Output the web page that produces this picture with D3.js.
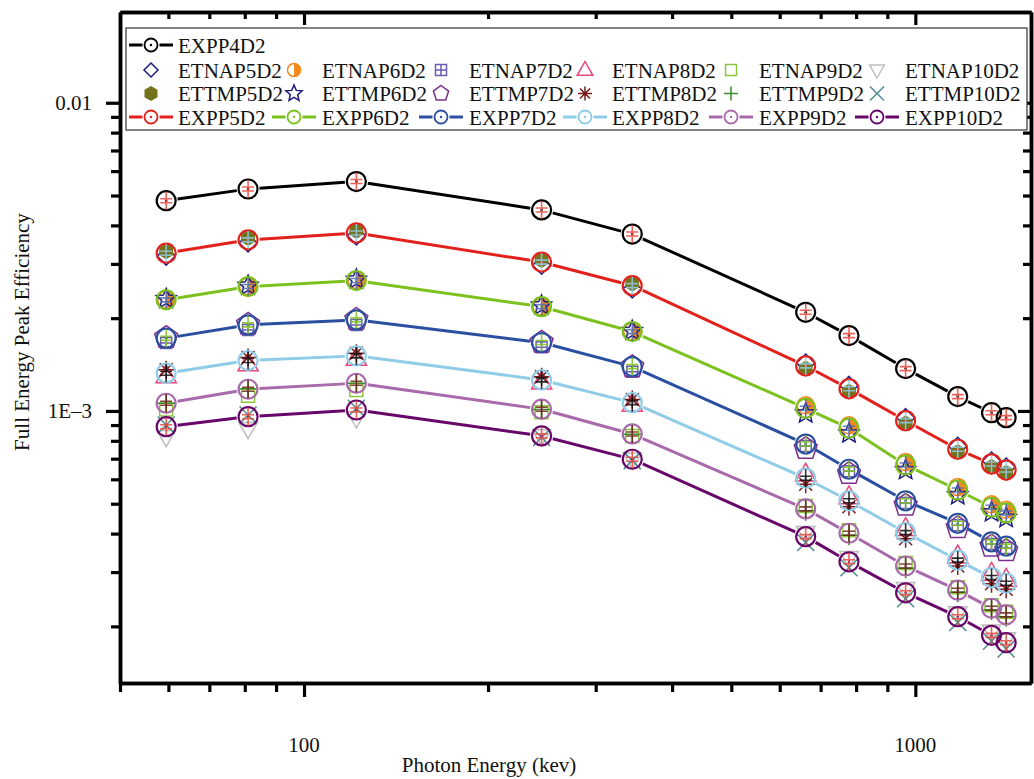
<!DOCTYPE html>
<html><head><meta charset="utf-8">
<script src="https://cdn.jsdelivr.net/npm/d3@7"></script>
<style>
body{margin:0;background:#fff}
svg{display:block}
text{font-family:"Liberation Serif","Times New Roman",serif;fill:#111}
</style>
</head><body>
<svg id="chart" width="1034" height="779"></svg>
<script>
// ---------------- data ----------------
const energies = [59.5, 81, 121.8, 244.7, 344.3, 661.7, 778.9, 964.1, 1173.2, 1332.5, 1408.0];

const EXPP4D2  = [4.81e-3, 5.25e-3, 5.55e-3, 4.49e-3, 3.75e-3, 2.09e-3, 1.756e-3, 1.372e-3, 1.113e-3, 0.987e-3, 0.951e-3];
const EXPP5D2  = [3.25e-3, 3.59e-3, 3.78e-3, 3.04e-3, 2.55e-3, 1.40e-3, 1.181e-3, 0.930e-3, 0.751e-3, 0.673e-3, 0.643e-3];
const EXPP6D2  = [2.293e-3, 2.533e-3, 2.649e-3, 2.18e-3, 1.809e-3, 1.020e-3, 0.879e-3, 0.668e-3, 0.554e-3, 0.487e-3, 0.467e-3];
const EXPP7D2  = [1.722e-3, 1.902e-3, 1.975e-3, 1.667e-3, 1.393e-3, 0.781e-3, 0.647e-3, 0.511e-3, 0.432e-3, 0.376e-3, 0.364e-3];
const EXPP8D2  = [1.326e-3, 1.457e-3, 1.509e-3, 1.261e-3, 1.064e-3, 0.605e-3, 0.511e-3, 0.403e-3, 0.328e-3, 0.288e-3, 0.276e-3];
const EXPP9D2  = [1.059e-3, 1.176e-3, 1.230e-3, 1.013e-3, 0.842e-3, 0.481e-3, 0.401e-3, 0.314e-3, 0.262e-3, 0.229e-3, 0.218e-3];
const EXPP10D2 = [0.889e-3, 0.958e-3, 1.007e-3, 0.830e-3, 0.697e-3, 0.391e-3, 0.324e-3, 0.257e-3, 0.215e-3, 0.187e-3, 0.177e-3];

const ETNAP5D2  = [3.18e-3, 3.51e-3, 3.70e-3, 2.97e-3, 2.49e-3, 1.43e-3, 1.21e-3, 0.951e-3, 0.768e-3, 0.688e-3, 0.658e-3];
const ETNAP6D2  = [2.30e-3, 2.54e-3, 2.66e-3, 2.18e-3, 1.81e-3, 1.043e-3, 0.899e-3, 0.683e-3, 0.567e-3, 0.498e-3, 0.478e-3];
const ETNAP7D2  = [1.66e-3, 1.83e-3, 1.90e-3, 1.61e-3, 1.34e-3, 0.769e-3, 0.637e-3, 0.503e-3, 0.426e-3, 0.370e-3, 0.359e-3];
const ETNAP8D2  = [1.30e-3, 1.42e-3, 1.48e-3, 1.24e-3, 1.05e-3, 0.623e-3, 0.526e-3, 0.415e-3, 0.338e-3, 0.297e-3, 0.284e-3];
const ETNAP9D2  = [1.01e-3, 1.12e-3, 1.17e-3, 0.99e-3, 0.83e-3, 0.492e-3, 0.410e-3, 0.321e-3, 0.268e-3, 0.234e-3, 0.223e-3];
const ETNAP10D2 = [0.825e-3, 0.876e-3, 0.949e-3, 0.83e-3, 0.697e-3, 0.403e-3, 0.334e-3, 0.265e-3, 0.221e-3, 0.193e-3, 0.182e-3];

const ETTMP5D2  = [3.30e-3, 3.64e-3, 3.84e-3, 3.09e-3, 2.59e-3, 1.37e-3, 1.155e-3, 0.910e-3, 0.734e-3, 0.658e-3, 0.629e-3];
const ETTMP6D2  = [2.31e-3, 2.55e-3, 2.67e-3, 2.20e-3, 1.82e-3, 0.982e-3, 0.846e-3, 0.643e-3, 0.533e-3, 0.469e-3, 0.450e-3];
const ETTMP7D2  = [1.73e-3, 1.91e-3, 1.98e-3, 1.67e-3, 1.39e-3, 0.755e-3, 0.626e-3, 0.494e-3, 0.418e-3, 0.364e-3, 0.352e-3];
const ETTMP8D2  = [1.36e-3, 1.49e-3, 1.54e-3, 1.29e-3, 1.09e-3, 0.578e-3, 0.489e-3, 0.385e-3, 0.314e-3, 0.275e-3, 0.264e-3];
const ETTMP9D2  = [1.06e-3, 1.18e-3, 1.23e-3, 1.01e-3, 0.84e-3, 0.474e-3, 0.395e-3, 0.309e-3, 0.258e-3, 0.226e-3, 0.215e-3];
const ETTMP10D2 = [0.90e-3, 0.97e-3, 1.02e-3, 0.82e-3, 0.69e-3, 0.374e-3, 0.310e-3, 0.246e-3, 0.206e-3, 0.179e-3, 0.169e-3];

const xMajorTicks = [100, 1000];
const xMajorLabels = ["100", "1000"];
const xMinorTicks = [50, 60, 70, 80, 90, 200, 300, 400, 500, 600, 700, 800, 900];
const yMajorTicks = [1e-3, 1e-2];
const yMajorLabels = ["1E\u20133", "0.01"];
const yMinorTicks = [2e-4, 3e-4, 4e-4, 5e-4, 6e-4, 7e-4, 8e-4, 9e-4, 2e-3, 3e-3, 4e-3, 5e-3, 6e-3, 7e-3, 8e-3, 9e-3];
const xDomain = [50, 1546];
const yDomain = [1.31e-4, 0.0197];

// ---------------- series definitions ----------------
const exppSeries = [
  {name: "EXPP4D2",  values: EXPP4D2,  color: "#000000", err: "#e8463c"},
  {name: "EXPP5D2",  values: EXPP5D2,  color: "#e3211c", err: "#8fcce8"},
  {name: "EXPP6D2",  values: EXPP6D2,  color: "#7dc11f", err: "#5068b2"},
  {name: "EXPP7D2",  values: EXPP7D2,  color: "#2a4fa0", err: "#7dc11f"},
  {name: "EXPP8D2",  values: EXPP8D2,  color: "#8fcce8", err: "#111111"},
  {name: "EXPP9D2",  values: EXPP9D2,  color: "#a86aaa", err: "#6b2410"},
  {name: "EXPP10D2", values: EXPP10D2, color: "#68076a", err: "#e8463c"}
];
const etnapSeries = [
  {name: "ETNAP5D2",  values: ETNAP5D2,  kind: "diamond",     color: "#1d1d8a"},
  {name: "ETNAP6D2",  values: ETNAP6D2,  kind: "halfcircle",  color: "#f28a1e"},
  {name: "ETNAP7D2",  values: ETNAP7D2,  kind: "squarecross", color: "#6b5bb5"},
  {name: "ETNAP8D2",  values: ETNAP8D2,  kind: "triangle",    color: "#e8457a"},
  {name: "ETNAP9D2",  values: ETNAP9D2,  kind: "square",      color: "#8cc63f"},
  {name: "ETNAP10D2", values: ETNAP10D2, kind: "triangledown",color: "#bdbdbd"}
];
const ettmpSeries = [
  {name: "ETTMP5D2",  values: ETTMP5D2,  kind: "hexagon",  color: "#74731c"},
  {name: "ETTMP6D2",  values: ETTMP6D2,  kind: "star",     color: "#1c1c7a"},
  {name: "ETTMP7D2",  values: ETTMP7D2,  kind: "pentagon", color: "#7b2f8f"},
  {name: "ETTMP8D2",  values: ETTMP8D2,  kind: "asterisk", color: "#7a1c1c"},
  {name: "ETTMP9D2",  values: ETTMP9D2,  kind: "plus",     color: "#3d8b2a"},
  {name: "ETTMP10D2", values: ETTMP10D2, kind: "cross",    color: "#4b8c8c"}
];

// ---------------- scales ----------------
const svg = d3.select("#chart");
const x = d3.scaleLog().domain(xDomain).range([120, 1031]);
const y = d3.scaleLog().domain(yDomain).range([683, 12]);

// ---------------- marker drawing ----------------
function poly(n, r, start) {
  const pts = [];
  for (let k = 0; k < n; k++) {
    const a = (start + k * 360 / n) * Math.PI / 180;
    pts.push([r * Math.cos(a), r * Math.sin(a)]);
  }
  return "M" + pts.map(p => p[0].toFixed(2) + "," + p[1].toFixed(2)).join("L") + "Z";
}
function starPath(R, ri) {
  const pts = [];
  for (let k = 0; k < 10; k++) {
    const a = (-90 + k * 36) * Math.PI / 180;
    const r = k % 2 === 0 ? R : ri;
    pts.push([r * Math.cos(a), r * Math.sin(a)]);
  }
  return "M" + pts.map(p => p[0].toFixed(2) + "," + p[1].toFixed(2)).join("L") + "Z";
}
function drawMarker(g, kind, color, s, sw) {
  const st = (el) => el.attr("fill", "none").attr("stroke", color).attr("stroke-width", sw);
  switch (kind) {
    case "diamond": st(g.append("path").attr("d", `M0,${-s}L${s},0L0,${s}L${-s},0Z`)); break;
    case "halfcircle":
      g.append("path").attr("d", `M0,${-s}A${s},${s} 0 0 1 0,${s}Z`).attr("fill", color);
      st(g.append("circle").attr("r", s));
      break;
    case "squarecross":
      st(g.append("path").attr("d", `M${-s},${-s}H${s}V${s}H${-s}Z M${-s},0H${s} M0,${-s}V${s}`)); break;
    case "triangle": st(g.append("path").attr("d", `M0,${-s}L${s*0.92},${s*0.62}L${-s*0.92},${s*0.62}Z`)); break;
    case "square": st(g.append("path").attr("d", `M${-s},${-s}H${s}V${s}H${-s}Z`)); break;
    case "triangledown": st(g.append("path").attr("d", `M0,${s}L${s*0.92},${-s*0.62}L${-s*0.92},${-s*0.62}Z`)); break;
    case "hexagon": g.append("path").attr("d", poly(6, s, -90)).attr("fill", color); break;
    case "star": st(g.append("path").attr("d", starPath(s, s * 0.45))); break;
    case "pentagon": st(g.append("path").attr("d", poly(5, s, -90))); break;
    case "asterisk": {
      const d = s * 0.72;
      st(g.append("path").attr("d", `M0,${-s}V${s} M${-s},0H${s} M${-d},${-d}L${d},${d} M${-d},${d}L${d},${-d}`)); break;
    }
    case "plus": st(g.append("path").attr("d", `M0,${-s}V${s} M${-s},0H${s}`)); break;
    case "cross": st(g.append("path").attr("d", `M${-s},${-s}L${s},${s} M${-s},${s}L${s},${-s}`)); break;
  }
}
const plotSize = {diamond: 9, halfcircle: 8.5, squarecross: 5.5, triangle: 11, square: 6.5, triangledown: 10,
                  hexagon: 8, star: 10.5, pentagon: 12, asterisk: 9, plus: 10, cross: 8.5};
const legendSize = {diamond: 7, halfcircle: 6.5, squarecross: 5.5, triangle: 8.5, square: 5.5, triangledown: 8,
                    hexagon: 7.5, star: 8.5, pentagon: 8, asterisk: 7, plus: 7, cross: 7};

const plot = svg.append("g");
const R = 9.5;

function drawExpp(s) {
  const g = plot.append("g");
  const pts = energies.map((e, i) => [x(e), y(s.values[i])]);
  for (let i = 0; i < pts.length - 1; i++) {
    const [x0, y0] = pts[i], [x1, y1] = pts[i + 1];
    const dx = x1 - x0, dy = y1 - y0, len = Math.hypot(dx, dy), gap = R + 2;
    if (len <= 2 * gap) continue;
    const ux = dx / len, uy = dy / len;
    g.append("line")
      .attr("x1", x0 + ux * gap).attr("y1", y0 + uy * gap)
      .attr("x2", x1 - ux * gap).attr("y2", y1 - uy * gap)
      .attr("stroke", s.color).attr("stroke-width", 3);
  }
  pts.forEach(([px, py]) => {
    const m = g.append("g").attr("transform", `translate(${px},${py})`);
    m.append("circle").attr("r", R).attr("fill", "none").attr("stroke", s.color).attr("stroke-width", 2.2);
    m.append("circle").attr("r", 1.3).attr("fill", s.color);
    m.append("path").attr("d", `M0,${-R + 0.5}V${R - 0.5} M-6,-2H6 M-6,2H6`)
      .attr("stroke", s.err).attr("stroke-width", 1.6).attr("fill", "none").attr("opacity", 0.85);
  });
}
function drawSim(s) {
  const g = plot.append("g");
  energies.forEach((e, i) => {
    const m = g.append("g").attr("transform", `translate(${x(e)},${y(s.values[i])})`);
    drawMarker(m, s.kind, s.color, plotSize[s.kind], 1.5);
  });
}
drawExpp(exppSeries[0]);
etnapSeries.forEach(drawSim);
ettmpSeries.forEach(drawSim);
exppSeries.slice(1).forEach(drawExpp);

// ---------------- axes ----------------
function styleAxis(g) {
  g.selectAll("path.domain").attr("stroke", "#000").attr("stroke-width", 3.5);
  g.selectAll(".tick line").attr("stroke", "#000").attr("stroke-width", 3.2);
  g.selectAll(".tick text").remove();
}
const axes = svg.append("g");
axes.append("g").attr("transform", "translate(0,683)").call(d3.axisBottom(x).tickValues(xMinorTicks).tickSize(9).tickSizeOuter(0)).call(styleAxis);
axes.append("g").attr("transform", "translate(0,683)").call(d3.axisBottom(x).tickValues(xMajorTicks).tickSize(14).tickSizeOuter(0)).call(styleAxis);
axes.append("g").attr("transform", "translate(0,12)").call(d3.axisTop(x).tickValues(xMinorTicks.slice(1)).tickSize(-7).tickSizeOuter(0)).call(styleAxis);
axes.append("g").attr("transform", "translate(0,12)").call(d3.axisTop(x).tickValues(xMajorTicks).tickSize(-13).tickSizeOuter(0)).call(styleAxis);
axes.append("g").attr("transform", "translate(120,0)").call(d3.axisLeft(y).tickValues(yMinorTicks).tickSize(9).tickSizeOuter(0)).call(styleAxis);
axes.append("g").attr("transform", "translate(120,0)").call(d3.axisLeft(y).tickValues(yMajorTicks).tickSize(14).tickSizeOuter(0)).call(styleAxis);
axes.append("g").attr("transform", "translate(1031,0)").call(d3.axisRight(y).tickValues(yMinorTicks).tickSize(-8).tickSizeOuter(0)).call(styleAxis);
axes.append("g").attr("transform", "translate(1031,0)").call(d3.axisRight(y).tickValues(yMajorTicks).tickSize(-13).tickSizeOuter(0)).call(styleAxis);

xMajorTicks.forEach((t, i) => {
  svg.append("text").attr("x", x(t)).attr("y", 752).attr("text-anchor", "middle")
    .attr("font-size", 21).text(xMajorLabels[i]);
});
yMajorTicks.forEach((t, i) => {
  svg.append("text").attr("x", 92).attr("y", y(t) + 7).attr("text-anchor", "end")
    .attr("font-size", 21).text(yMajorLabels[i]);
});
svg.append("text").attr("x", 489).attr("y", 772).attr("text-anchor", "middle").attr("font-size", 21).text("Photon Energy (kev)");
svg.append("text").attr("transform", "translate(29,332) rotate(-90)").attr("text-anchor", "middle").attr("font-size", 21).text("Full Energy Peak Efficiency");

// ---------------- legend ----------------
const lg = svg.append("g");
lg.append("rect").attr("x", 126).attr("y", 28).attr("width", 901).attr("height", 102)
  .attr("fill", "#fff").attr("stroke", "#333").attr("stroke-width", 1.2);
const symX = [151, 294, 441, 585, 731, 877];
const txtX = [178, 322, 469, 612, 759, 905];
const rowY = [45, 70, 93.5, 117];
function legendExpp(s, cx, tx, cy) {
  const r = 6.5;
  lg.append("line").attr("x1", cx - 22).attr("x2", cx - r - 2).attr("y1", cy).attr("y2", cy).attr("stroke", s.color).attr("stroke-width", 3);
  lg.append("line").attr("x1", cx + r + 2).attr("x2", cx + 22).attr("y1", cy).attr("y2", cy).attr("stroke", s.color).attr("stroke-width", 3);
  lg.append("circle").attr("cx", cx).attr("cy", cy).attr("r", r).attr("fill", "none").attr("stroke", s.color).attr("stroke-width", 1.8);
  lg.append("circle").attr("cx", cx).attr("cy", cy).attr("r", 1.2).attr("fill", s.color);
  lg.append("text").attr("x", tx).attr("y", cy + 7.5).attr("font-size", 21).text(s.name);
}
function legendSim(s, cx, tx, cy) {
  const m = lg.append("g").attr("transform", `translate(${cx},${cy})`);
  drawMarker(m, s.kind, s.color, legendSize[s.kind], 1.5);
  lg.append("text").attr("x", tx).attr("y", cy + 7.5).attr("font-size", 21).text(s.name);
}
legendExpp(exppSeries[0], symX[0], txtX[0], rowY[0]);
etnapSeries.forEach((s, i) => legendSim(s, symX[i], txtX[i], rowY[1]));
ettmpSeries.forEach((s, i) => legendSim(s, symX[i], txtX[i], rowY[2]));
exppSeries.slice(1).forEach((s, i) => legendExpp(s, symX[i], txtX[i], rowY[3]));
</script>
</body></html>
